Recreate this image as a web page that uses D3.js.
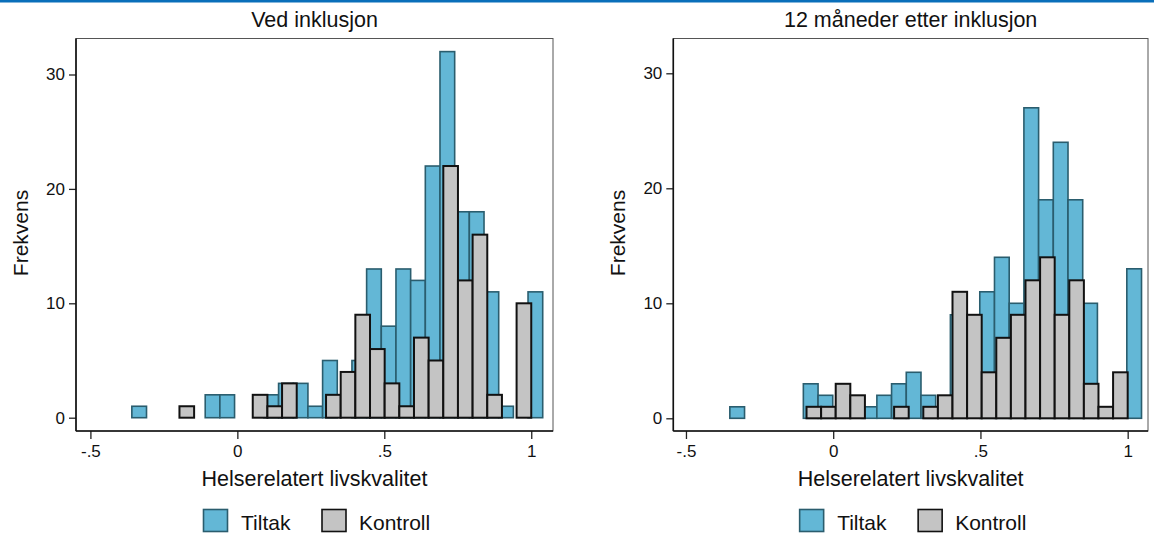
<!DOCTYPE html>
<html>
<head>
<meta charset="utf-8">
<script src="https://cdn.jsdelivr.net/npm/d3@7"></script>
<style>
  html, body { margin: 0; padding: 0; background: #fff; }
  svg text { font-family: "Liberation Sans", Arial, sans-serif; fill: #111; }
</style>
</head>
<body>
<svg id="chart" width="1154" height="536"></svg>
<script>
// ---- Data ----
const panelTitles = ["Ved inklusjon", "12 måneder etter inklusjon"];
const seriesNames = ["Tiltak", "Kontroll"];
const xTickValues = [-0.5, 0, 0.5, 1];
const xTickLabels = ["-.5", "0", ".5", "1"];
const yTickValues = [0, 10, 20, 30];
const xAxisTitle = "Helserelatert livskvalitet";
const yAxisTitle = "Frekvens";

// histogram ranges [min, max] and bin counts
const leftTiltakRange = [-0.359, 1.039];
const leftTiltak = [1,0,0,0,0,2,2,0,0,2,3,3,1,5,0,5,13,8,13,12,22,32,18,18,11,1,0,11];
const leftKontrollRange = [-0.197, 1.0];
const leftKontroll = [1,0,0,0,0,2,1,3,0,0,2,4,9,6,3,1,7,5,22,12,16,2,0,10];

const rightTiltakRange = [-0.351, 1.047];
const rightTiltak = [1,0,0,0,0,3,2,0,0,1,2,3,4,2,0,9,0,11,14,10,27,19,24,19,10,0,0,13];
const rightKontrollRange = [-0.0906, 1.0];
const rightKontroll = [1,1,3,2,0,0,1,0,1,2,11,9,4,7,9,12,14,9,12,3,1,4];

// ---- Styling / layout ----
const colors = {
  Tiltak: { fill: "#63b7d6", stroke: "#2a5d6e", sw: 1.6 },
  Kontroll: { fill: "#c4c4c4", stroke: "#111111", sw: 2 }
};

const svg = d3.select("#chart");
svg.append("rect").attr("x", 0).attr("y", 0).attr("width", 1154).attr("height", 2.5).attr("fill", "#0a6fba");

const panels = [
  { title: panelTitles[0], box: [76, 38.5, 553, 431], xDom: [-0.549, 1.074], yZero: 417.7, yTen: 303.3,
    series: [["Tiltak", leftTiltakRange, leftTiltak], ["Kontroll", leftKontrollRange, leftKontroll]],
    yLabelX: 28 },
  { title: panelTitles[1], box: [673.3, 38.5, 1148, 431], xDom: [-0.543, 1.069], yZero: 418.3, yTen: 303.3,
    series: [["Tiltak", rightTiltakRange, rightTiltak], ["Kontroll", rightKontrollRange, rightKontroll]],
    yLabelX: 625 }
];

panels.forEach(p => {
  const [x0, y0, x1, y1] = p.box;
  const x = d3.scaleLinear().domain(p.xDom).range([x0, x1]);
  const perUnit = (p.yZero - p.yTen) / 10;
  const y = d3.scaleLinear().domain([0, 30]).range([p.yZero, p.yZero - 30 * perUnit]);
  const g = svg.append("g");
  const cx = (x0 + x1) / 2;

  // plot region frame
  g.append("rect").attr("x", x0).attr("y", y0).attr("width", x1 - x0).attr("height", y1 - y0)
    .attr("fill", "#fff").attr("stroke", "#555").attr("stroke-width", 1);

  // bars
  p.series.forEach(([name, range, counts]) => {
    const w = (range[1] - range[0]) / counts.length;
    const bins = counts.map((c, i) => ({ lo: range[0] + i * w, hi: range[0] + (i + 1) * w, c }))
      .filter(d => d.c > 0);
    g.append("g").selectAll("rect").data(bins).join("rect")
      .attr("x", d => x(d.lo))
      .attr("y", d => y(d.c))
      .attr("width", d => x(d.hi) - x(d.lo))
      .attr("height", d => y(0) - y(d.c))
      .attr("fill", colors[name].fill)
      .attr("stroke", colors[name].stroke)
      .attr("stroke-width", colors[name].sw);
  });

  // y axis
  const yAxis = d3.axisLeft(y).tickValues(yTickValues).tickSize(7).tickPadding(4).tickFormat(d3.format("d"));
  const ya = g.append("g").attr("transform", `translate(${x0},0)`).call(yAxis);
  ya.select(".domain").remove();
  ya.selectAll(".tick line").attr("stroke", "#222").attr("stroke-width", 1.3);
  ya.selectAll(".tick text").attr("font-size", 17).attr("fill", "#111")
    .attr("font-family", "Liberation Sans, Arial, sans-serif");
  g.append("line").attr("x1", x0).attr("x2", x0).attr("y1", y0).attr("y2", y1)
    .attr("stroke", "#111").attr("stroke-width", 1.6);

  // x axis
  const xAxis = d3.axisBottom(x).tickValues(xTickValues).tickSize(8).tickPadding(6)
    .tickFormat((d, i) => xTickLabels[i]);
  const xa = g.append("g").attr("transform", `translate(0,${y1})`).call(xAxis);
  xa.select(".domain").remove();
  xa.selectAll(".tick line").attr("stroke", "#222").attr("stroke-width", 1.3);
  xa.selectAll(".tick text").attr("font-size", 17).attr("fill", "#111")
    .attr("font-family", "Liberation Sans, Arial, sans-serif");
  g.append("line").attr("x1", x0).attr("x2", x1).attr("y1", y1).attr("y2", y1)
    .attr("stroke", "#111").attr("stroke-width", 1.6);

  // titles
  g.append("text").attr("x", cx).attr("y", 27).attr("text-anchor", "middle")
    .attr("font-size", 21.5).text(p.title);
  g.append("text").attr("x", cx).attr("y", 486).attr("text-anchor", "middle")
    .attr("font-size", 21.5).text(xAxisTitle);
  g.append("text").attr("transform", `translate(${p.yLabelX},233) rotate(-90)`)
    .attr("text-anchor", "middle").attr("font-size", 21).text(yAxisTitle);

  // legend
  const lg = g.append("g").attr("transform", `translate(${cx - 114},509)`);
  const items = [{ name: seriesNames[0], dx: 3, tx: 40.5 }, { name: seriesNames[1], dx: 121.5, tx: 158.5 }];
  items.forEach(it => {
    lg.append("rect").attr("x", it.dx).attr("y", 0.5).attr("width", 24).attr("height", 22)
      .attr("fill", colors[it.name].fill).attr("stroke", colors[it.name].stroke).attr("stroke-width", 1.6);
    lg.append("text").attr("x", it.tx).attr("y", 20.5).attr("font-size", 21).text(it.name);
  });
});
</script>
</body>
</html>
